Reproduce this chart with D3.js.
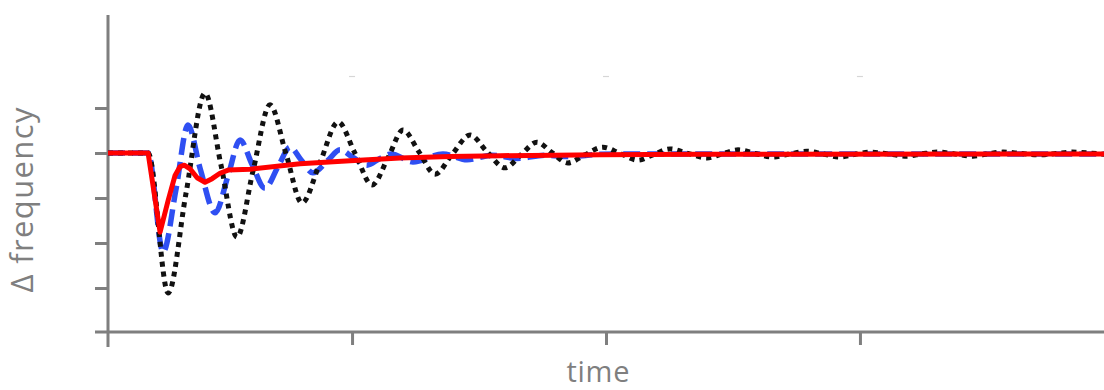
<!DOCTYPE html>
<html>
<head>
<meta charset="utf-8">
<script src="https://cdn.jsdelivr.net/npm/d3@7/dist/d3.min.js"></script>
<style>
  html, body { margin: 0; padding: 0; background: #ffffff; }
  svg { display: block; }
</style>
</head>
<body>
<svg id="chart" width="1104" height="390"></svg>
<script>
// Frequency deviation after a disturbance, three responses.
// Time in seconds, deviation in arbitrary units (one tick = 1).

const xTicks = [1, 2, 3];
const yTicks = [1, 0, -1, -2, -3];

// Lightly damped response (black dotted)
const blackTime = [0.039, 0.197, 0.276, 0.346, 0.421, 0.484, 0.547, 0.610, 0.677, 0.740,
  0.803, 0.874, 0.945, 1.012, 1.079, 1.142, 1.201, 1.264, 1.327, 1.394,
  1.465, 1.531, 1.602, 1.665, 1.728, 1.787, 1.850, 1.917, 1.988, 2.055,
  2.126, 2.189, 2.252, 2.323, 2.398, 2.457, 2.520, 2.587, 2.654, 2.724,
  2.791, 2.854, 2.921, 2.980, 3.039, 3.110, 3.185, 3.244, 3.307, 3.374,
  3.445, 3.504, 3.563, 3.634, 3.709, 3.772, 3.835, 3.906, 3.961];
const blackValues = [0, 0, -3.11, -0.9, 1.33, -0.27, -1.87, -0.4, 1.07, -0.02,
  -1.11, -0.21, 0.69, -0.01, -0.71, -0.1, 0.51, 0.02, -0.47, -0.03,
  0.40, 0.03, -0.33, -0.04, 0.24, 0.01, -0.22, -0.04, 0.13, -0.01,
  -0.16, -0.03, 0.09, -0.01, -0.11, -0.02, 0.07, -0.01, -0.09, -0.02,
  0.04, -0.02, -0.09, -0.03, 0.02, -0.02, -0.07, -0.02, 0.02, -0.02,
  -0.07, -0.02, 0.02, -0.01, -0.04, -0.01, 0.02, 0, -0.03];

// Moderately damped response (blue dashed)
const blueTime = [0.039, 0.197, 0.256, 0.307, 0.354, 0.402, 0.461, 0.512, 0.559, 0.606,
  0.657, 0.709, 0.756, 0.799, 0.846, 0.902, 0.953, 1.004, 1.059, 1.110,
  1.154, 1.240, 1.358, 1.453, 1.551, 1.650, 1.760, 1.858, 1.976, 2.173, 3.961];
const blueValues = [0, 0, -2.2, -0.8, 0.62, -0.35, -1.33, -0.5, 0.29, -0.25,
  -0.78, -0.3, 0.13, -0.15, -0.44, -0.18, 0.07, -0.1, -0.27, -0.12,
  -0.02, -0.2, -0.02, -0.15, -0.05, -0.12, -0.05, -0.08, -0.03, -0.02, -0.02];

// Well damped response (red solid)
const redTime = [0.039, 0.197, 0.244, 0.276, 0.303, 0.323, 0.339, 0.362, 0.390, 0.421,
  0.449, 0.480, 0.512, 0.598, 0.795, 0.992, 1.189, 1.386, 1.583, 1.976, 2.370, 3.961];
const redValues = [0, 0, -1.76, -1.05, -0.5, -0.3, -0.27, -0.35, -0.55, -0.65,
  -0.57, -0.45, -0.38, -0.36, -0.24, -0.17, -0.11, -0.08, -0.06, -0.04, -0.03, -0.02];

const svg = d3.select("#chart");
const axisColor = "#7f7f7f";

const x = d3.scaleLinear().domain([0.039, 3.961]).range([108, 1104]);
const y = d3.scaleLinear().domain([-3.978, 3.067]).range([332, 15]);

// Y axis ticks (no labels)
const yAxis = svg.append("g")
  .attr("transform", `translate(${x(0.039)},0)`)
  .call(d3.axisLeft(y).tickValues(yTicks).tickSize(13).tickSizeOuter(0).tickFormat(""));
yAxis.select(".domain").remove();
yAxis.selectAll(".tick line").attr("stroke", axisColor).attr("stroke-width", 3);

// X axis ticks (no labels)
const xAxis = svg.append("g")
  .attr("transform", `translate(0,${y(-3.978)})`)
  .call(d3.axisBottom(x).tickValues(xTicks).tickSize(13).tickSizeOuter(0).tickFormat(""));
xAxis.select(".domain").remove();
xAxis.selectAll(".tick line").attr("stroke", axisColor).attr("stroke-width", 3);

// Axis lines, each running past the origin by one tick length
svg.append("line")
  .attr("x1", x(0.039)).attr("x2", x(0.039))
  .attr("y1", y(3.067)).attr("y2", y(-3.978) + 15)
  .attr("stroke", axisColor).attr("stroke-width", 3);
svg.append("line")
  .attr("x1", x(0.039) - 13).attr("x2", x(3.961))
  .attr("y1", y(-3.978)).attr("y2", y(-3.978))
  .attr("stroke", axisColor).attr("stroke-width", 3);

// Faint marks above the curves at each time tick
svg.append("g").selectAll("line").data(xTicks).join("line")
  .attr("x1", d => x(d) - 3).attr("x2", d => x(d) + 3)
  .attr("y1", y(1.7)).attr("y2", y(1.7))
  .attr("stroke", "#d6d6d6").attr("stroke-width", 1.2);

const zip = (ts, vs) => ts.map((t, i) => [t, vs[i]]);

const smooth = d3.line().x(d => x(d[0])).y(d => y(d[1])).curve(d3.curveMonotoneX);
const straight = d3.line().x(d => x(d[0])).y(d => y(d[1]));

svg.append("path")
  .attr("d", smooth(zip(blueTime, blueValues)))
  .attr("fill", "none")
  .attr("stroke", "#2f4ff2")
  .attr("stroke-width", 5.5)
  .attr("stroke-dasharray", "17 7");

svg.append("path")
  .attr("d", smooth(zip(blackTime, blackValues)))
  .attr("fill", "none")
  .attr("stroke", "#111111")
  .attr("stroke-width", 5)
  .attr("stroke-dasharray", "5 5");

svg.append("path")
  .attr("d", straight(zip(redTime, redValues)))
  .attr("fill", "none")
  .attr("stroke", "#ff0000")
  .attr("stroke-width", 5)
  .attr("stroke-linejoin", "round");

// Axis titles
svg.append("text")
  .attr("x", 598).attr("y", 382)
  .attr("text-anchor", "middle")
  .attr("font-family", "'Open Sans', sans-serif")
  .attr("font-size", 29)
  .attr("textLength", 63)
  .attr("lengthAdjust", "spacing")
  .attr("fill", axisColor)
  .text("time");

svg.append("text")
  .attr("transform", "translate(33,200) rotate(-90)")
  .attr("text-anchor", "middle")
  .attr("font-family", "'Open Sans', sans-serif")
  .attr("font-size", 31)
  .attr("textLength", 185)
  .attr("lengthAdjust", "spacing")
  .attr("fill", axisColor)
  .text("Δ frequency");
</script>
</body>
</html>
